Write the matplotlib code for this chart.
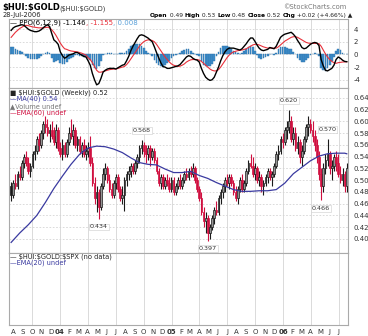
import numpy as np
import pandas as pd
import matplotlib
matplotlib.use("Agg")
import matplotlib.pyplot as plt
import matplotlib.dates as mdates

plt.rcParams['font.family'] = 'DejaVu Sans'
plt.rcParams['axes.unicode_minus'] = False

# weekly bars (Friday), $HUI:$GOLD ratio
weeks = pd.date_range("2003-07-25", periods=158, freq="7D")

opens = [
    .49, .475, .495, .49, .51, .505, .53, .54, .53, .515,
    .525, .545, .55, .57, .56, .58, .595, .59, .58, .585,
    .575, .565, .585, .555, .545, .56, .545, .565, .58, .575,
    .585, .56, .57, .55, .56, .545, .55, .555, .53, .495,
    .47, .48, .455, .49, .51, .52, .50, .485, .475, .495,
    .505, .485, .47, .475, .50, .51, .515, .525, .515, .53,
    .54, .555, .56, .55, .545, .555, .54, .55, .535, .515,
    .495, .505, .49, .50, .495, .485, .50, .48, .49, .50,
    .49, .50, .51, .505, .515, .51, .52, .50, .485, .47,
    .445, .43, .435, .41, .42, .435, .45, .445, .47, .48,
    .49, .50, .495, .505, .495, .48, .47, .485, .50, .485,
    .495, .515, .53, .525, .51, .52, .50, .505, .49, .495,
    .505, .515, .505, .51, .525, .545, .55, .57, .565, .585,
    .59, .60, .57, .58, .555, .565, .54, .55, .57, .59,
    .595, .585, .575, .56, .54, .51, .49, .52, .535, .545,
    .52, .525, .54, .53, .51, .50, .51, .49,
]
highs = [
    .497, .50, .51, .515, .525, .535, .545, .55, .54, .53,
    .55, .56, .575, .58, .585, .60, .609, .605, .595, .60,
    .59, .595, .59, .565, .57, .565, .57, .59, .605, .595,
    .59, .575, .575, .565, .57, .56, .565, .575, .54, .505,
    .49, .485, .495, .52, .53, .525, .51, .495, .50, .51,
    .51, .49, .49, .505, .515, .525, .53, .53, .535, .545,
    .56, .568, .565, .56, .56, .56, .555, .555, .54, .52,
    .51, .51, .505, .51, .505, .505, .505, .495, .505, .51,
    .505, .515, .52, .52, .525, .53, .525, .505, .49, .48,
    .455, .445, .44, .425, .44, .455, .465, .475, .485, .495,
    .505, .51, .51, .51, .50, .49, .49, .505, .51, .50,
    .52, .535, .545, .54, .53, .525, .515, .51, .50, .51,
    .52, .52, .515, .53, .55, .56, .575, .58, .59, .60,
    .62, .61, .59, .59, .575, .57, .56, .575, .595, .61,
    .605, .60, .585, .57, .55, .52, .53, .545, .57, .55,
    .535, .545, .55, .545, .525, .52, .515, .53,
]
lows = [
    .465, .47, .485, .485, .50, .50, .52, .525, .51, .505,
    .52, .535, .545, .55, .555, .57, .58, .575, .565, .57,
    .56, .555, .55, .54, .535, .54, .54, .56, .57, .56,
    .555, .55, .545, .54, .54, .535, .54, .525, .49, .46,
    .445, .434, .45, .485, .50, .495, .48, .47, .47, .485,
    .48, .465, .46, .448, .49, .50, .505, .51, .51, .52,
    .53, .545, .54, .53, .535, .525, .535, .53, .51, .49,
    .485, .485, .485, .49, .48, .48, .475, .475, .485, .485,
    .485, .495, .50, .50, .505, .505, .495, .48, .465, .44,
    .42, .41, .397, .40, .415, .425, .44, .44, .46, .47,
    .48, .49, .485, .49, .475, .465, .46, .48, .48, .48,
    .49, .51, .52, .505, .50, .495, .49, .48, .475, .49,
    .495, .50, .49, .505, .52, .535, .545, .555, .56, .57,
    .58, .565, .56, .55, .545, .53, .525, .545, .565, .575,
    .58, .565, .55, .53, .50, .466, .48, .51, .525, .51,
    .50, .515, .515, .505, .495, .49, .48, .48,
]
closes = [
    .475, .495, .49, .51, .505, .53, .54, .53, .515, .525,
    .545, .55, .57, .56, .58, .595, .59, .58, .585, .575,
    .565, .585, .555, .545, .56, .545, .565, .58, .575, .585,
    .56, .57, .55, .56, .545, .55, .555, .53, .495, .47,
    .48, .455, .49, .51, .52, .50, .485, .475, .495, .505,
    .485, .47, .475, .50, .51, .515, .525, .515, .53, .54,
    .555, .56, .55, .545, .555, .54, .55, .535, .515, .495,
    .505, .49, .50, .495, .485, .50, .48, .49, .50, .49,
    .50, .51, .505, .515, .51, .52, .50, .485, .47, .445,
    .43, .435, .41, .42, .435, .45, .445, .47, .48, .49,
    .50, .495, .505, .495, .48, .47, .485, .50, .485, .495,
    .515, .53, .525, .51, .52, .50, .505, .49, .495, .505,
    .515, .505, .51, .525, .545, .55, .57, .565, .585, .59,
    .60, .57, .58, .555, .565, .54, .55, .57, .59, .595,
    .585, .575, .56, .54, .51, .49, .52, .535, .545, .52,
    .525, .54, .53, .51, .50, .51, .49, .52,
]

# 40-week moving average, read every 4th week
ma40_week = [0, 4, 8, 12, 16, 20, 24, 28, 32, 36, 40, 44, 48, 52, 56, 60, 64, 68, 72, 76,
             80, 84, 88, 92, 96, 100, 104, 108, 112, 116, 120, 124, 128, 132, 136, 140,
             144, 148, 152, 156, 157]
ma40 = [.394, .41, .424, .44, .462, .486, .507, .527, .544, .555, .558, .557, .553, .547,
        .538, .53, .527, .526, .519, .513, .513, .515, .508, .503, .496, .49, .484, .481,
        .481, .482, .482, .484, .495, .511, .522, .533, .541, .545, .546, .546, .545]

# PPO(6,12,9) line, weekly
ppo = [
    3.8, 4.2, 4.4, 4.5, 4.6, 4.7, 4.6, 4.3, 4.0, 3.8,
    3.7, 3.6, 3.6, 3.7, 3.9, 4.2, 4.5, 4.7, 4.4, 3.3,
    2.3, 2.0, 1.6, 0.4, -0.2, -0.6, -0.4, -0.1, 0.0, 0.1,
    0.3, 0.3, 0.1, -0.1, -0.3, -0.4, -1.0, -1.7, -3.0, -4.0,
    -4.8, -4.6, -3.8, -2.8, -2.5, -2.3, -2.2, -2.2, -2.2, -2.3,
    -2.1, -1.9, -1.7, -1.6, -1.0, -0.3, 0.6, 1.3, 1.9, 2.5,
    3.0, 3.1, 3.0, 2.8, 2.6, 2.3, 2.0, 1.2, 0.3, -0.5,
    -1.3, -1.9, -2.0, -2.2, -2.2, -2.1, -2.0, -1.9, -1.8, -1.6,
    -1.2, -0.8, -0.4, -0.2, -0.3, -0.6, -0.8, -0.9, -1.2, -2.2,
    -3.0, -3.6, -3.9, -4.1, -4.0, -3.6, -2.8, -2.0, -1.0, -0.2,
    0.4, 0.8, 1.0, 1.0, 1.0, 0.9, 0.8, 0.7, 0.9, 1.3,
    1.7, 2.2, 2.6, 2.6, 2.1, 1.5, 1.0, 0.7, 0.6, 0.7,
    0.8, 1.1, 1.0, 0.9, 1.3, 2.0, 2.7, 3.0, 3.2, 3.3,
    3.4, 3.5, 3.2, 2.8, 2.2, 1.7, 1.1, 0.9, 1.0, 1.3,
    1.6, 1.8, 1.9, 1.8, 1.4, -0.8, -1.8, -2.5, -2.6, -2.4,
    -2.2, -1.7, -0.8, -0.4, -0.6, -0.9, -1.1, -1.146,
]
# 9-week signal line, weekly
ppo_signal = [
    2.7, 3.1, 3.5, 3.8, 4.1, 4.3, 4.5, 4.6, 4.55, 4.45,
    4.35, 4.3, 4.25, 4.2, 4.2, 4.2, 4.25, 4.3, 4.2, 3.9,
    3.5, 3.0, 2.4, 1.8, 1.3, 0.9, 0.8, 0.65, 0.55, 0.5,
    0.45, 0.4, 0.3, 0.2, 0.05, -0.1, -0.5, -0.8, -1.3, -1.9,
    -2.5, -2.8, -2.8, -2.7, -2.6, -2.5, -2.4, -2.35, -2.3, -2.3,
    -2.2, -2.1, -2.0, -1.9, -1.6, -1.2, -0.7, -0.2, 0.3, 0.8,
    1.3, 1.7, 2.0, 2.2, 2.3, 2.3, 2.2, 2.0, 1.6, 1.1,
    0.6, 0.1, -0.4, -0.8, -1.2, -1.5, -1.7, -1.8, -1.9, -1.85,
    -1.7, -1.5, -1.2, -1.0, -0.85, -0.8, -0.8, -0.8, -0.9, -1.1,
    -1.4, -1.7, -2.0, -2.3, -2.5, -2.6, -2.6, -2.4, -2.0, -1.5,
    -1.0, -0.5, -0.1, 0.2, 0.4, 0.5, 0.6, 0.65, 0.7, 0.8,
    0.9, 1.1, 1.3, 1.5, 1.6, 1.6, 1.5, 1.35, 1.2, 1.1,
    1.0, 1.0, 1.0, 1.0, 1.0, 1.2, 1.5, 1.8, 2.1, 2.3,
    2.5, 2.7, 2.8, 2.8, 2.7, 2.5, 2.3, 2.1, 1.9, 1.8,
    1.75, 1.75, 1.75, 1.75, 1.7, 1.3, 0.7, 0.1, -0.4, -0.8,
    -1.1, -1.3, -1.4, -1.3, -1.25, -1.2, -1.17, -1.155,
]

# annotated swing points: (week index, 'high' or 'low')
swings = [(41, 'low'), (61, 'high'), (92, 'low'), (130, 'high'), (148, 'high'), (145, 'low')]

RED = '#d01040'
DARK = '#1a1a1a'
HIST = '#3f8fcc'
MA_BLUE = '#3a3aa0'
GRID = '#d4d4d4'

W, H = 368, 336


def box(x0, y0, x1, y1):
    return [x0 / W, 1 - y1 / H, (x1 - x0) / W, (y1 - y0) / H]


def fx(px):
    return px / W


def fy(py):
    return 1 - py / H


fig = plt.figure(figsize=(W / 100, H / 100), dpi=100)
ax_ppo = fig.add_axes(box(9, 19, 348, 88))
ax = fig.add_axes(box(9, 88, 348, 253), sharex=ax_ppo)
ax_spx = fig.add_axes(box(9, 253, 348, 325), sharex=ax_ppo)

x = mdates.date2num(weeks)
o = np.array(opens)
h = np.array(highs)
l = np.array(lows)
c = np.array(closes)

# --- PPO panel ---
hist = np.array(ppo) - np.array(ppo_signal)
ax_ppo.bar(x, hist, width=5.5, color=HIST, edgecolor='#2a6fa8', linewidth=0.3, zorder=2)
ax_ppo.plot(x, ppo_signal, color='#e8303a', lw=0.8, zorder=3)
ax_ppo.plot(x, ppo, color='black', lw=1.0, zorder=4)
ax_ppo.set_ylim(-5.3, 5.6)
ax_ppo.set_yticks([-4, -2, 0, 2, 4])

# --- price panel ---
# red when the close is below the prior close, filled when close < open
prev = np.r_[c[0], c[:-1]]
for i in range(len(x)):
    col = RED if c[i] < prev[i] else DARK
    ax.vlines(x[i], l[i], h[i], color=col, lw=0.8, zorder=3)
    lo, hi = min(o[i], c[i]), max(o[i], c[i])
    face = col if c[i] < o[i] else '#959595'
    ax.bar(x[i], max(hi - lo, 0.002), bottom=lo, width=5.5, facecolor=face,
           edgecolor=col, linewidth=0.5, zorder=4)

ax.plot(mdates.date2num(weeks[ma40_week]), ma40, color=MA_BLUE, lw=0.9, zorder=5)

for k, side in swings:
    if side == 'high':
        ax.annotate(f"{highs[k]:.3f}", (x[k], highs[k]), xytext=(0, 5), textcoords='offset points',
                    ha='center', va='bottom', fontsize=4.6, color='#333333', zorder=6,
                    bbox=dict(boxstyle='square,pad=0.15', fc='white', ec='#cccccc', lw=0.4))
    else:
        ax.annotate(f"{lows[k]:.3f}", (x[k], lows[k]), xytext=(0, -4), textcoords='offset points',
                    ha='center', va='top', fontsize=4.6, color='#333333', zorder=6,
                    bbox=dict(boxstyle='square,pad=0.15', fc='white', ec='#cccccc', lw=0.4))

ax.set_ylim(0.376, 0.657)
ax.set_yticks(np.arange(0.40, 0.641, 0.02))
ax.set_yticklabels([f"{v:.2f}" for v in np.arange(0.40, 0.641, 0.02)])

# --- empty $SPX ratio panel ---
ax_spx.set_ylim(0, 1)
ax_spx.set_yticks([])

# --- shared styling ---
xmin = mdates.date2num(pd.Timestamp("2003-07-18"))
xmax = mdates.date2num(pd.Timestamp("2006-08-01"))
quarters = [d for d in pd.date_range("2003-07-01", "2006-07-01", freq="QS")]
for a in (ax_ppo, ax, ax_spx):
    a.set_xlim(xmin, xmax)
    for q in quarters:
        a.axvline(mdates.date2num(q), color=GRID, lw=0.6, zorder=0)
    a.yaxis.tick_right()
    a.tick_params(axis='y', length=0, labelsize=5, pad=4, colors='#333333')
    a.tick_params(axis='x', length=0)
    for s in a.spines.values():
        s.set_color('#aaaaaa')
        s.set_linewidth(0.8)
    a.set_facecolor('white')

for a in (ax_ppo, ax):
    for v in a.get_yticks():
        a.axhline(v, color=GRID, lw=0.6, ls=(0, (2, 2)), zorder=0)

ax_ppo.tick_params(axis='x', labelbottom=False)
ax.tick_params(axis='x', labelbottom=False)

months = pd.date_range("2003-08-01", "2006-07-01", freq="MS")
ax_spx.set_xticks(mdates.date2num(months))
labels = [f"{m.year % 100:02d}" if m.month == 1 else m.strftime("%b")[0] for m in months]
ax_spx.set_xticklabels(labels)
ax_spx.tick_params(axis='x', labelsize=5, pad=3, colors='#333333')
for t, m in zip(ax_spx.get_xticklabels(), months):
    if m.month == 1:
        t.set_fontweight('bold')


def chain(parts, x0, y0):
    s0, col0, wt0, fs0 = parts[0]
    t = fig.text(fx(x0), fy(y0), s0, color=col0, fontweight=wt0,
                 fontsize=fs0, va='baseline', ha='left', parse_math=False, zorder=10)
    for s, col, wt, fs in parts[1:]:
        t = ax_ppo.annotate(s, xy=(1, 0), xycoords=t, va='bottom', ha='left', color=col,
                            fontweight=wt, fontsize=fs, annotation_clip=False,
                            parse_math=False, zorder=10)
    return t


# header
fig.text(fx(2), fy(10), "$HUI:$GOLD", fontsize=6.0, fontweight='bold', color='black',
         va='baseline', parse_math=False)
fig.text(fx(59), fy(10), "($HUI:$GOLD)", fontsize=4.8, color='#333333',
         va='baseline', parse_math=False)
fig.text(fx(346), fy(9), "\u00a9StockCharts.com", fontsize=4.8, color='#777777',
         ha='right', va='baseline')
fig.text(fx(3), fy(17), "28-Jul-2006", fontsize=4.8, color='#222222', va='baseline')
hs = 4.3
chain([("Open", 'black', 'bold', hs), (" 0.49 ", '#222222', 'normal', hs),
       ("High", 'black', 'bold', hs), (" 0.53 ", '#222222', 'normal', hs),
       ("Low", 'black', 'bold', hs), (" 0.48 ", '#222222', 'normal', hs),
       ("Close", 'black', 'bold', hs), (" 0.52 ", '#222222', 'normal', hs),
       ("Chg", 'black', 'bold', hs), (" +0.02 (+4.66%) \u25b2", '#222222', 'normal', hs)], 150, 17)

# panel legends
chain([("\u2014 PPO(6,12,9) -1.146", 'black', 'normal', 5), (", -1.155", '#e8303a', 'normal', 5),
       (", 0.008", '#5aa0d8', 'normal', 5)], 10, 25)
fig.text(fx(10), fy(94), "\u25a0 $HUI:$GOLD (Weekly) 0.52", fontsize=4.8, color='#222222',
         va='baseline', parse_math=False)
fig.text(fx(10), fy(101), "\u2014MA(40) 0.54", fontsize=4.8, color=MA_BLUE, va='baseline')
fig.text(fx(10), fy(108), "\u25b2Volume undef", fontsize=4.8, color='#777777', va='baseline')
fig.text(fx(10), fy(115), "\u2014EMA(60) undef", fontsize=4.8, color=RED, va='baseline')
fig.text(fx(10), fy(259), "\u2014 $HUI:$GOLD:$SPX (no data)", fontsize=4.8, color='#222222',
         va='baseline', parse_math=False)
fig.text(fx(10), fy(265), "\u2014EMA(20) undef", fontsize=4.8, color=MA_BLUE, va='baseline')

fig.savefig("out.png", dpi=100)
